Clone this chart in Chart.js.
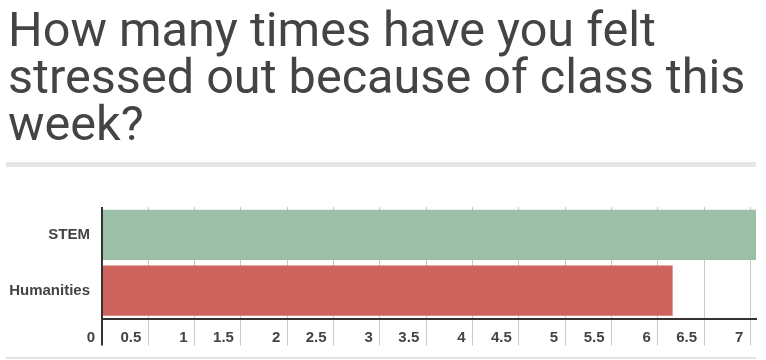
<!DOCTYPE html>
<html>
<head>
<meta charset="utf-8">
<script src="https://cdn.jsdelivr.net/npm/chart.js@4"></script>
<style>
  html, body { margin: 0; padding: 0; background: #fff; width: 766px; height: 360px; overflow: hidden; }
  #title { position: absolute; left: 8px; top: 5.8px; width: 760px; font-family: Roboto, sans-serif; font-size: 48.6px; line-height: 47px; color: #444; margin: 0; font-weight: 400; }
  #rule { position: absolute; left: 6px; top: 162px; width: 750px; height: 5px; background: #e6e6e6; }
  #bottomRule { position: absolute; left: 6px; top: 357px; width: 750px; height: 2px; background: #e2e2e2; }
  #wrap { position: absolute; left: 0; top: 170px; width: 766px; height: 190px; }
</style>
</head>
<body>
<h1 id="title">How many times have you felt<br>stressed out because of class this<br>week?</h1>
<div id="rule"></div>
<div id="wrap"><canvas id="c" width="766" height="190"></canvas></div>
<div id="bottomRule"></div>
<script>
const categories = ["STEM", "Humanities"];
const stressCounts = [7.06, 6.16];
const barColors = ["#9bc0a7", "#ce625d"];

const labelFont = { family: "'Liberation Sans', Arial, sans-serif", size: 15, weight: "bold" };

new Chart(document.getElementById("c"), {
  type: "bar",
  data: {
    labels: categories,
    datasets: [{
      data: stressCounts,
      backgroundColor: barColors,
      borderWidth: 0,
      barPercentage: 0.9,
      categoryPercentage: 1.0
    }]
  },
  options: {
    indexAxis: "y",
    responsive: false,
    animation: false,
    devicePixelRatio: 1,
    layout: { padding: { left: 7, right: 10, top: 37, bottom: 0 } },
    plugins: { legend: { display: false }, tooltip: { enabled: false }, title: { display: false } },
    scales: {
      x: {
        type: "linear",
        min: 0,
        max: 7.06,
        afterFit: (s) => { s.height = 41.5; },
        grid: { color: "#c9c9c9", lineWidth: 1, drawTicks: true, tickLength: 27, tickColor: "#c9c9c9" },
        border: { display: true, color: "#333", width: 2 },
        ticks: {
          stepSize: 0.5,
          includeBounds: false,
          align: "end",
          labelOffset: -7,
          padding: -17,
          maxRotation: 0,
          autoSkip: false,
          color: "#444",
          font: labelFont,
          callback: (v) => String(v)
        }
      },
      y: {
        afterFit: (s) => { s.width = 95; },
        grid: { display: false, drawTicks: false },
        border: { display: false },
        ticks: { padding: 12, color: "#444", font: labelFont }
      }
    }
  },
  plugins: [{
    id: "axisLine",
    afterDraw(chart) {
      const { ctx, chartArea } = chart;
      const x0 = chart.scales.x.getPixelForValue(0);
      ctx.save();
      ctx.strokeStyle = "#333";
      ctx.lineWidth = 2;
      ctx.beginPath();
      ctx.moveTo(x0, chartArea.top);
      ctx.lineTo(x0, chartArea.bottom + 27);
      ctx.stroke();
      ctx.restore();
    }
  }]
});
</script>
</body>
</html>
